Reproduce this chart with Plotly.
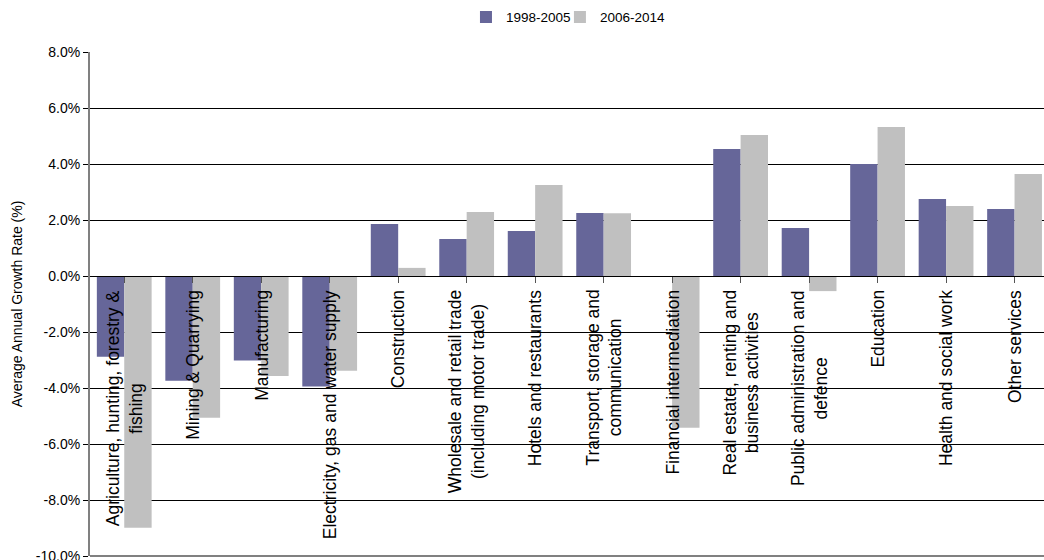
import plotly.graph_objects as go

# Industry categories (line breaks mark the wrapped label lines)
categories = [
    "Agriculture, hunting, forestry &<br>fishing",
    "Mining & Quarrying",
    "Manufacturing",
    "Electricity, gas and water supply",
    "Construction",
    "Wholesale and retail trade<br>(including motor trade)",
    "Hotels and restaurants",
    "Transport, storage and<br>communication",
    "Financial intermediation",
    "Real estate, renting and<br>business activities",
    "Public administration and<br>defence",
    "Education",
    "Health and social work",
    "Other services",
]

# Average annual growth rate (%) per period
growth_1998_2005 = [-2.88, -3.74, -3.02, -3.95, 1.86, 1.32, 1.61, 2.25,
                    0.0, 4.54, 1.71, 4.00, 2.75, 2.39]
growth_2006_2014 = [-8.99, -5.06, -3.57, -3.38, 0.29, 2.29, 3.25, 2.24,
                    -5.42, 5.04, -0.54, 5.32, 2.50, 3.64]

period_names = ["1998-2005", "2006-2014"]
period_colors = ["#666699", "#C0C0C0"]

y_ticks = [-10, -8, -6, -4, -2, 0, 2, 4, 6, 8]

FONT = "Liberation Sans, Arial, sans-serif"
x_idx = list(range(len(categories)))

# One legend box per period so the two entries sit close together
legend_ids = ["legend", "legend2"]
legend_x = [0.3941, 0.4926]

fig = go.Figure()
for name, vals, col, lg in zip(period_names, [growth_1998_2005, growth_2006_2014],
                               period_colors, legend_ids):
    fig.add_trace(go.Bar(
        x=x_idx, y=vals, name=name, legend=lg,
        marker=dict(color=col, line=dict(width=0)),
    ))

# Category labels drawn vertically just below the zero line
for i, label in enumerate(categories):
    fig.add_annotation(
        x=i, y=0, xref="x", yref="y",
        text=label, showarrow=False, textangle=-90,
        xanchor="center", yanchor="top", yshift=-12,
        align="center",
        font=dict(family=FONT, size=17.5, color="black"),
    )

y_min, y_max = -10.0, 8.0
zero_pos = (0 - y_min) / (y_max - y_min)

# Bottom border of the plot area
fig.add_shape(type="line", xref="paper", yref="paper",
              x0=0, x1=1, y0=0, y1=0, layer="above",
              line=dict(color="#808080", width=2))

legend_style = dict(orientation="h", y=1.069, xanchor="left", yanchor="middle",
                    font=dict(family=FONT, size=13.5), itemwidth=30,
                    bgcolor="rgba(0,0,0,0)")

fig.update_layout(
    width=1044, height=560,
    margin=dict(l=90, r=0, t=52, b=4, autoexpand=False),
    paper_bgcolor="white", plot_bgcolor="white",
    barmode="group", bargap=0.2, bargroupgap=0,
    font=dict(family=FONT, size=14, color="black"),
    legend=dict(x=legend_x[0], **legend_style),
    legend2=dict(x=legend_x[1], **legend_style),
    showlegend=True,
    xaxis=dict(
        range=[-0.5, 13.43],
        tickmode="array", tickvals=x_idx, ticktext=[""] * len(x_idx),
        tickson="boundaries", ticks="outside", ticklen=6,
        tickcolor="#555555", tickwidth=1,
        showgrid=False, zeroline=False,
        showline=True, linecolor="black", linewidth=1,
        anchor="free", position=zero_pos,
        automargin=False,
    ),
    yaxis=dict(
        range=[y_min, y_max],
        tickmode="array", tickvals=y_ticks,
        ticktext=[f"{v:.1f}%" for v in y_ticks],
        ticks="outside", ticklen=5, tickcolor="black",
        ticklabeloverflow="allow",
        automargin=False,
        showgrid=True, gridcolor="black", gridwidth=1,
        zeroline=False,
        showline=True, linecolor="#808080", linewidth=2,
        tickfont=dict(family=FONT, size=14),
        title=dict(text="Average Annual Growth Rate (%)",
                   font=dict(family=FONT, size=14), standoff=10),
    ),
)

fig.write_html("out.html")
